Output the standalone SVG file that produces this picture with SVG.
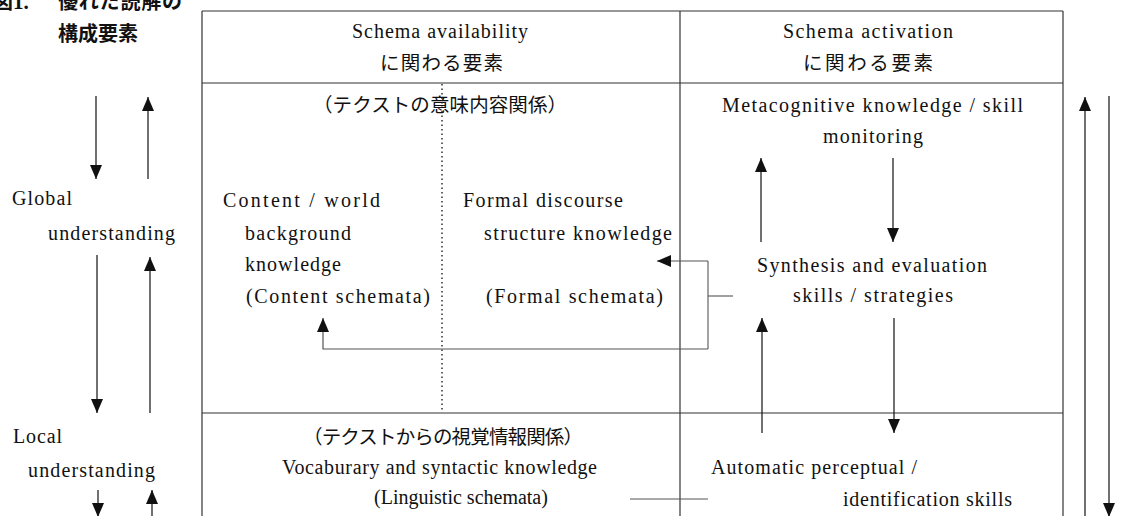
<svg xmlns="http://www.w3.org/2000/svg" width="1123" height="516" viewBox="0 0 1123 516">
<style>
.t{font-family:"Liberation Serif","Noto Sans CJK JP",serif;font-size:20px;fill:#111}
.j{font-family:"Liberation Serif","Noto Sans CJK JP",serif;font-size:19.5px;fill:#111}
.g{font-family:"Noto Sans CJK JP",sans-serif;font-size:20px;font-weight:bold;fill:#111}
.frame{stroke:#333;stroke-width:1.2;fill:none}
.dot{stroke:#222;stroke-width:1.4;stroke-dasharray:1.5 3;fill:none}
.ar{stroke:#111;stroke-width:1.2;fill:none;marker-end:url(#ah)}
.br{stroke:#555;stroke-width:1.1;fill:none}
</style>
<defs>
<marker id="ah" markerUnits="userSpaceOnUse" markerWidth="14" markerHeight="12" refX="14" refY="6" orient="auto">
<path d="M0,0 L14,6 L0,12 Z" fill="#111"/>
</marker>
</defs>
<rect width="1123" height="516" fill="#fff"/>

<g id="title">
<text class="g" x="-7" y="9">図<tspan font-family="Liberation Serif" font-size="21">1.</tspan></text>
<text class="g" x="58" y="9" textLength="124" lengthAdjust="spacing">優れた読解の</text>
<text class="g" x="58" y="41" textLength="80" lengthAdjust="spacing">構成要素</text>
</g>

<g id="table">
<line class="frame" x1="202" y1="11" x2="1063" y2="11"/>
<line class="frame" x1="202" y1="11" x2="202" y2="516"/>
<line class="frame" x1="680" y1="11" x2="680" y2="516"/>
<line class="frame" x1="1063" y1="11" x2="1063" y2="516"/>
<line class="frame" x1="202" y1="83" x2="1063" y2="83"/>
<line class="frame" x1="202" y1="413" x2="1063" y2="413"/>
<line class="dot" x1="442" y1="84" x2="442" y2="412"/>
</g>

<g id="header-availability">
<text class="t" x="352" y="38" textLength="176" lengthAdjust="spacing">Schema availability</text>
<text class="j" x="380" y="70" textLength="123" lengthAdjust="spacing">に関わる要素</text>
</g>
<g id="header-activation">
<text class="t" x="783" y="38" textLength="170" lengthAdjust="spacing">Schema activation</text>
<text class="j" x="803" y="70" textLength="130" lengthAdjust="spacing">に関わる要素</text>
</g>

<g id="global-label">
<text class="t" x="12" y="205" textLength="60" lengthAdjust="spacing">Global</text>
<text class="t" x="48" y="240" textLength="127" lengthAdjust="spacing">understanding</text>
</g>
<g id="local-label">
<text class="t" x="13" y="443" textLength="49" lengthAdjust="spacing">Local</text>
<text class="t" x="28" y="477" textLength="127" lengthAdjust="spacing">understanding</text>
</g>

<g id="semantic-heading">
<text class="j" x="313" y="112" textLength="254" lengthAdjust="spacing">（テクストの意味内容関係）</text>
</g>
<g id="content-schemata">
<text class="t" x="223" y="207" textLength="157" lengthAdjust="spacing">Content / world</text>
<text class="t" x="245" y="240" textLength="106" lengthAdjust="spacing">background</text>
<text class="t" x="245" y="271" textLength="96" lengthAdjust="spacing">knowledge</text>
<text class="t" x="246" y="303" textLength="184" lengthAdjust="spacing">(Content schemata)</text>
</g>
<g id="formal-schemata">
<text class="t" x="463" y="207" textLength="160" lengthAdjust="spacing">Formal discourse</text>
<text class="t" x="484" y="240" textLength="188" lengthAdjust="spacing">structure knowledge</text>
<text class="t" x="486" y="303" textLength="177" lengthAdjust="spacing">(Formal schemata)</text>
</g>
<g id="metacognitive">
<text class="t" x="722" y="112" textLength="301" lengthAdjust="spacing">Metacognitive knowledge / skill</text>
<text class="t" x="823" y="143" textLength="100" lengthAdjust="spacing">monitoring</text>
</g>
<g id="synthesis">
<text class="t" x="757" y="272" textLength="230" lengthAdjust="spacing">Synthesis and evaluation</text>
<text class="t" x="793" y="302" textLength="160" lengthAdjust="spacing">skills / strategies</text>
</g>
<g id="visual-heading">
<text class="j" x="303" y="444" textLength="280" lengthAdjust="spacing">（テクストからの視覚情報関係）</text>
</g>
<g id="linguistic-schemata">
<text class="t" x="282" y="474" textLength="315" lengthAdjust="spacing">Vocaburary and syntactic knowledge</text>
<text class="t" x="461" y="504" text-anchor="middle">(Linguistic schemata)</text>
</g>
<g id="automatic">
<text class="t" x="711" y="474" textLength="206" lengthAdjust="spacing">Automatic perceptual /</text>
<text class="t" x="843" y="506" textLength="169" lengthAdjust="spacing">identification skills</text>
</g>

<g id="connectors">
<line class="ar" x1="96" y1="96" x2="96" y2="179"/>
<line class="ar" x1="148" y1="179" x2="148" y2="97"/>
<line class="ar" x1="97" y1="255" x2="97" y2="413"/>
<line class="ar" x1="150" y1="413" x2="150" y2="257"/>
<line class="ar" x1="98" y1="490" x2="98" y2="517"/>
<line class="ar" x1="152" y1="520" x2="152" y2="490"/>
<line class="ar" x1="1085" y1="520" x2="1085" y2="97"/>
<line class="ar" x1="1109" y1="96" x2="1109" y2="517"/>
<line class="ar" x1="761" y1="242" x2="761" y2="158"/>
<line class="ar" x1="893" y1="158" x2="893" y2="242"/>
<line class="ar" x1="762" y1="433" x2="762" y2="318"/>
<line class="ar" x1="894" y1="318" x2="894" y2="433"/>
<path class="br" d="M708,296 H733"/>
<path class="br" d="M708,349 V261"/>
<path class="ar" d="M708,261 H657" style="stroke:#555"/>
<path class="ar" d="M708,349 H323 V318" style="stroke:#555"/>
<path class="br" d="M630,499 H708"/>
</g>
</svg>
